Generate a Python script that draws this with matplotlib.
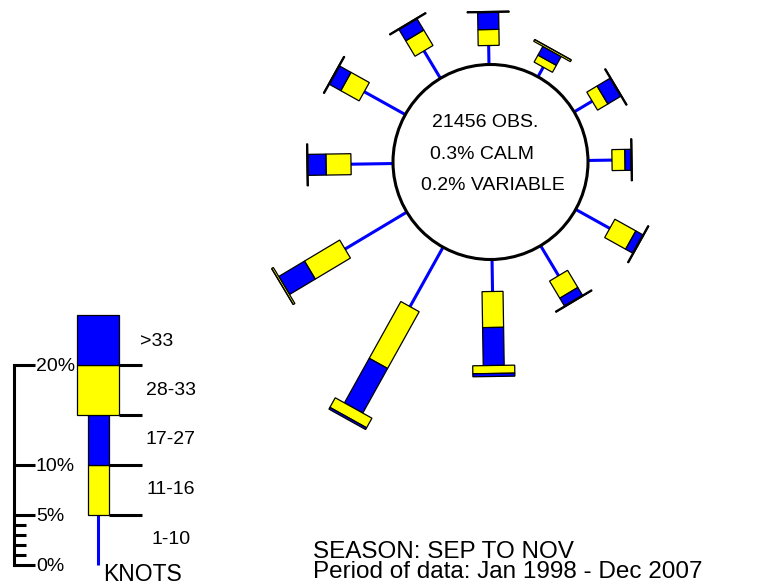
import matplotlib
matplotlib.use('Agg')
import matplotlib.pyplot as plt
from matplotlib.patches import Rectangle, Circle
from matplotlib.transforms import Affine2D

plt.rcParams['font.family'] = ['Liberation Sans', 'DejaVu Sans']

# wind directions (deg from north) and % of observations per speed band
directions = [0, 30, 60, 90, 120, 150, 180, 210, 240, 270, 300, 330]
knots_1_10 = [1.9, 1.1, 2.1, 2.4, 3.9, 3.5, 3.2, 6.8, 7.2, 4.2, 4.7, 3.2]
knots_11_16 = [1.6, 0.8, 1.2, 1.3, 2.4, 2.0, 3.6, 6.5, 4.1, 2.5, 2.1, 1.8]
knots_17_27 = [1.7, 1.0, 1.5, 0.6, 0.8, 0.9, 3.8, 5.1, 3.0, 1.8, 1.3, 1.3]
knots_28_33 = [0.1, 0.2, 0.1, 0.1, 0.1, 0.1, 0.8, 1.1, 0.2, 0.1, 0.1, 0.1]
knots_gt_33 = [0.0, 0.0, 0.0, 0.0, 0.0, 0.0, 0.3, 0.2, 0.0, 0.0, 0.0, 0.0]

band_labels = ['1-10', '11-16', '17-27', '28-33', '>33']
legend_band = [5, 5, 5, 5, 5]
scale_ticks = [0, 1, 2, 3, 4, 5, 10, 20]
scale_labels = {0: '0%', 5: '5%', 10: '10%', 20: '20%'}

n_obs = 21456
calm = 0.3
variable = 0.2

BLUE = '#0000ff'
YELLOW = '#ffff00'
band_colors = [BLUE, YELLOW, BLUE, YELLOW, BLUE]
band_widths = [0, 2.1, 2.1, 4.2, 4.2]   # 0 -> drawn as a line
R = 9.75          # calm circle radius, in % units
ROT = -0.9        # the rose is turned very slightly

fig = plt.figure(figsize=(7.62, 5.88), dpi=100)
ax = fig.add_axes([0, 0, 1, 1])
ax.set_xlim(-49.05, 27.15)
ax.set_ylim(-42.6, 16.2)
ax.axis('off')


def draw_arm(tr, values, start):
    r = start
    for i, v in enumerate(values):
        w = band_widths[i]
        if w == 0:
            ax.plot([0, 0], [r, r + v], color=BLUE, lw=2.2,
                    solid_capstyle='butt', transform=tr, zorder=2)
        else:
            ax.add_patch(Rectangle((-w / 2, r), w, v, facecolor=band_colors[i],
                                   edgecolor='black', lw=0.9, transform=tr,
                                   zorder=3))
        r += v
    return r


# rose
for k, d in enumerate(directions):
    vals = [knots_1_10[k], knots_11_16[k], knots_17_27[k],
            knots_28_33[k], knots_gt_33[k]]
    tr = Affine2D().rotate_deg(-(d + ROT)) + ax.transData
    draw_arm(tr, vals, R)

ax.add_patch(Circle((0, 0), R, facecolor='white', edgecolor='black',
                    lw=2.2, zorder=4))
ax.text(-0.55, 3.9, f'{n_obs} OBS.', ha='center', va='center',
        fontsize=14, zorder=5)
ax.text(-0.85, 0.7, f'{calm}% CALM', ha='center', va='center',
        fontsize=14, zorder=5)
ax.text(0.2, -2.4, f'{variable}% VARIABLE', ha='center', va='center',
        fontsize=14, zorder=5)

# legend
ltr = Affine2D().translate(-39.2, -40.3) + ax.transData
draw_arm(ltr, legend_band, 0)

ax.plot([-8.45, -8.45], [0, scale_ticks[-1]], color='black', lw=2.2,
        transform=ltr)
for t in scale_ticks:
    ln = 2.15 if t in scale_labels else 1.2
    ax.plot([-8.45, -8.45 + ln], [t, t], color='black', lw=2.2,
            solid_capstyle='butt', transform=ltr)
    if t in scale_labels:
        ax.text(-6.25, t - 0.15, scale_labels[t], ha='left', va='center',
                fontsize=14, transform=ltr)

edge = 0
for i, v in enumerate(legend_band[:-1]):
    edge += v
    x0 = max(band_widths[i], band_widths[i + 1]) / 2
    ax.plot([x0, 4.35], [edge, edge], color='black', lw=2.2,
            solid_capstyle='butt', transform=ltr)

label_x = [7.28, 7.25, 7.25, 7.25, 5.82]
label_y = [2.5, 7.5, 12.5, 17.45, 22.4]
for lab, lx, ly in zip(band_labels, label_x, label_y):
    ax.text(lx, ly, lab, ha='center', va='center', fontsize=14, transform=ltr)
ax.text(4.45, -0.95, 'KNOTS', ha='center', va='center', fontsize=16.5,
        transform=ltr)

ax.text(-17.75, -39.62, 'SEASON: SEP TO NOV', ha='left', va='baseline',
        fontsize=17.5)
ax.text(-17.75, -41.6, 'Period of data: Jan 1998 - Dec 2007', ha='left',
        va='baseline', fontsize=17.5)

fig.savefig('out.png', dpi=100)
